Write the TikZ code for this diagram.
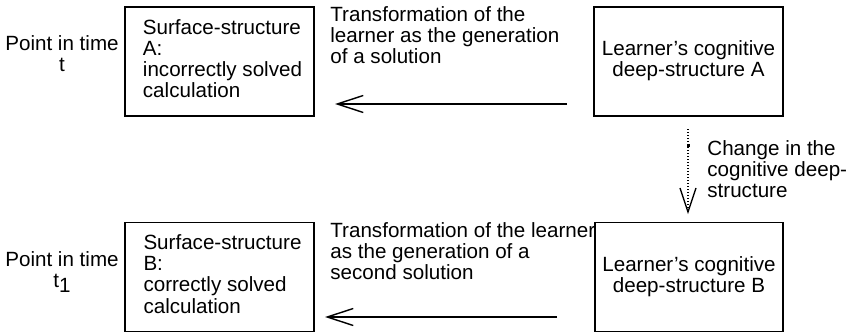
\documentclass[tikz,border=0pt]{standalone}
\usepackage{fontspec}
\setmainfont{Liberation Sans}
\usetikzlibrary{arrows.meta}
\begin{document}
\begin{tikzpicture}[x=0.5pt,y=-0.5pt,
  every node/.style={font=\fontsize{10.3}{10.5}\selectfont, inner sep=0pt},
  box/.style={draw, line width=0.65pt, minimum width=94.5pt, minimum height=54.5pt, align=left},
  lbl/.style={align=left, anchor=west},
  conn/.style={line width=0.75pt, -{Straight Barb[length=13pt,width=8.5pt,line width=0.7pt]}},
  chg/.style={line width=0.65pt, dash pattern=on 0.6pt off 0.9pt},
  chgtip/.style={line width=0.7pt, solid, line join=miter}
]
\useasboundingbox (0,0) rectangle (847,332);
% boxes
\node[box] (sa) at (219.5,61.5) {\hspace*{3pt}\begin{tabular}{@{}l@{}}Surface-structure\\A:\\incorrectly solved\\calculation\end{tabular}};
\node[box, align=center] (la) at (688.5,61.5) {\raisebox{-3pt}{\begin{tabular}{@{}c@{}}Learner’s cognitive\\deep-structure A\end{tabular}}};
\node[box] (sb) at (219.5,277) {\hspace*{3pt}\begin{tabular}{@{}l@{}}Surface-structure\\B:\\correctly solved\\calculation\end{tabular}};
\node[box, minimum width=94pt, align=center] (lb) at (689,277) {Learner’s cognitive\\deep-structure B};
% time labels
\node[align=center] (ta) at (62,54) {Point in time\\t};
\node[align=center] (tb) at (62,272) {Point in time\\t\raisebox{-2.5pt}{1}};
% transformation labels
\node[lbl] (tra) at (330,35.5) {Transformation of the\\learner as the generation\\of a solution};
\node[lbl] (trb) at (330,251) {Transformation of the learner\\as the generation of a\\second solution};
\node[lbl] (chgl) at (707,169) {Change in the\\cognitive deep-\\structure};
% connectors
\coordinate (a1) at (567,104);
\coordinate (a2) at (335,104);
\coordinate (b1) at (557,317);
\coordinate (b2) at (325,317);
\coordinate (c1) at (688,129);
\coordinate (c2) at (688,212);
\draw[conn] (a1) -- (a2);
\draw[conn] (b1) -- (b2);
\draw[chg] (c1) -- (c2);
\draw[chgtip] ([xshift=-4pt,yshift=12pt]c2) -- (c2) -- ([xshift=4pt,yshift=12pt]c2);
\fill (686.5,143.5) rectangle (689.5,146.5);
\end{tikzpicture}
\end{document}
